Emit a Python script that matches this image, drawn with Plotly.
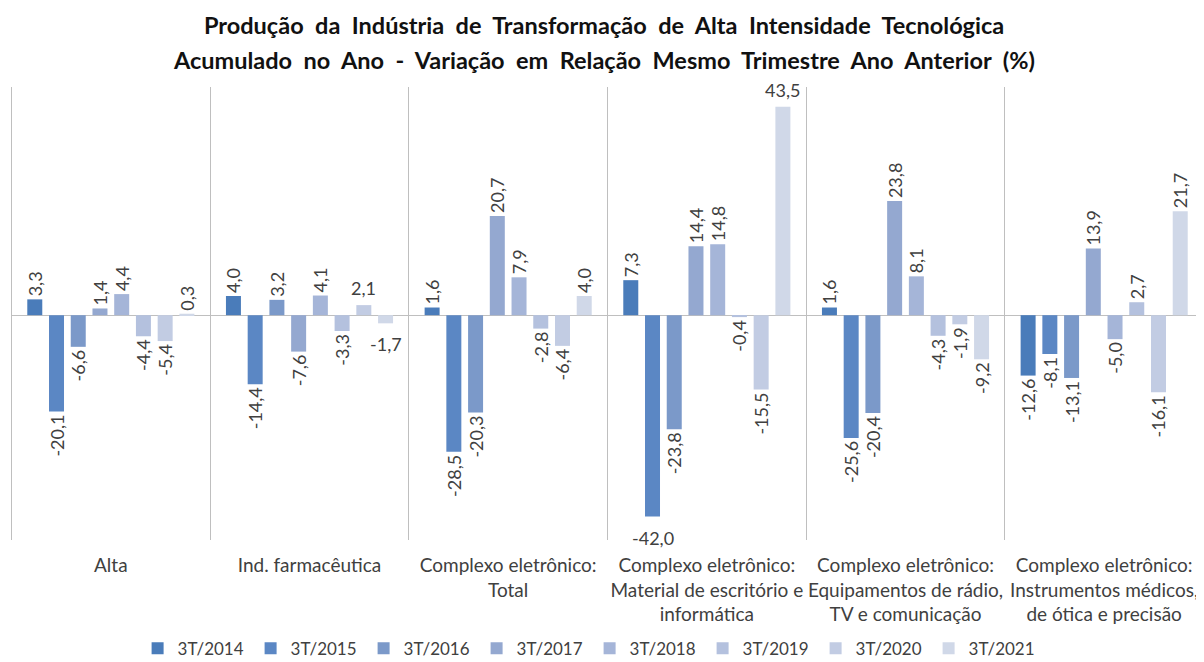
import plotly.graph_objects as go

categories = [
    "Alta",
    "Ind. farmacêutica",
    "Complexo eletrônico:<br>Total",
    "Complexo eletrônico:<br>Material de escritório e<br>informática",
    "Complexo eletrônico:<br>Equipamentos de rádio,<br>TV e comunicação",
    "Complexo eletrônico:<br>Instrumentos médicos,<br>de ótica e precisão",
]
series_names = ["3T/2014", "3T/2015", "3T/2016", "3T/2017", "3T/2018", "3T/2019", "3T/2020", "3T/2021"]

v_alta = [3.3, -20.1, -6.6, 1.4, 4.4, -4.4, -5.4, 0.3]
v_farma = [4.0, -14.4, 3.2, -7.6, 4.1, -3.3, 2.1, -1.7]
v_total = [1.6, -28.5, -20.3, 20.7, 7.9, -2.8, -6.4, 4.0]
v_material = [7.3, -42.0, -23.8, 14.4, 14.8, -0.4, -15.5, 43.5]
v_equip = [1.6, -25.6, -20.4, 23.8, 8.1, -4.3, -1.9, -9.2]
v_instr = [-12.6, -8.1, -13.1, 13.9, -5.0, 2.7, -16.1, 21.7]

by_category = [v_alta, v_farma, v_total, v_material, v_equip, v_instr]

colors = ["#4A7CBA", "#5B87C4", "#7B99C9", "#94A8D0", "#A5B5D8", "#B4C1DE", "#C2CCE3", "#D0D8E8"]

# labels drawn horizontally (category index, series index)
horizontal = [(1, 6), (1, 7), (3, 1), (3, 7)]

FONT = "Lato"
LBL = "#404040"
BARGAP = 0.125
NS = len(series_names)

def fmt(v):
    return f"{v:.1f}".replace(".", ",")

fig = go.Figure()
for j, name in enumerate(series_names):
    vals = [by_category[i][j] for i in range(len(categories))]
    texts = ["" if (i, j) in horizontal else fmt(vals[i]) for i in range(len(categories))]
    fig.add_trace(go.Bar(
        name=name, x=categories, y=vals, text=texts,
        textposition="outside", textangle=-90, constraintext="none",
        cliponaxis=False,
        textfont=dict(family=FONT, size=18, color=LBL),
        marker=dict(color=colors[j], line=dict(width=0)),
    ))

slot = (1 - BARGAP) / NS
for (i, j) in horizontal:
    v = by_category[i][j]
    fig.add_annotation(
        x=i + (j - (NS - 1) / 2) * slot, y=v, xref="x", yref="y",
        text=fmt(v), showarrow=False,
        yanchor="bottom" if v >= 0 else "top",
        yshift=4 if v >= 0 else -8,
        font=dict(family=FONT, size=18, color=LBL),
    )

title_font = dict(family=FONT, size=23.5, color="#111111", weight="bold")
fig.add_annotation(
    text="Produção  da  Indústria  de  Transformação  de  Alta  Intensidade  Tecnológica",
    xref="paper", yref="paper", x=0.497, y=1.137, yanchor="middle", showarrow=False,
    font=title_font,
)
fig.add_annotation(
    text="Acumulado  no  Ano  -  Variação  em  Relação  Mesmo  Trimestre  Ano  Anterior  (%)",
    xref="paper", yref="paper", x=0.497, y=1.0596, yanchor="middle", showarrow=False,
    font=title_font,
)

# outer frame separators (left / right edges of the category band)
for xb in [-0.5, len(categories) - 0.5]:
    fig.add_shape(type="line", xref="x", yref="paper", x0=xb, x1=xb, y0=0, y1=1,
                  line=dict(color="#BFBFBF", width=1))

fig.update_layout(
    width=1196, height=654,
    margin=dict(l=3, r=0, t=79, b=122, autoexpand=False),
    paper_bgcolor="white", plot_bgcolor="white",
    barmode="group", bargap=BARGAP, bargroupgap=0.31,
    font=dict(family=FONT, size=18, color=LBL),
    showlegend=True,
    legend=dict(orientation="h", x=0.485, xanchor="center", y=-0.24, yanchor="middle",
                font=dict(family=FONT, size=17, color=LBL), traceorder="normal",
                entrywidth=68, entrywidthmode="pixels"),
    xaxis=dict(type="category", tickson="boundaries", showgrid=True, gridcolor="#BFBFBF",
               gridwidth=1, ticks="", showline=False, zeroline=False, automargin=False,
               ticklabelstandoff=12, tickangle=0,
               tickfont=dict(family=FONT, size=19, color=LBL)),
    yaxis=dict(range=[-46.9, 47.6], showticklabels=False, showgrid=False, automargin=False,
               zeroline=True, zerolinecolor="#BFBFBF", zerolinewidth=1, showline=False),
)

fig.write_html("out.html")
